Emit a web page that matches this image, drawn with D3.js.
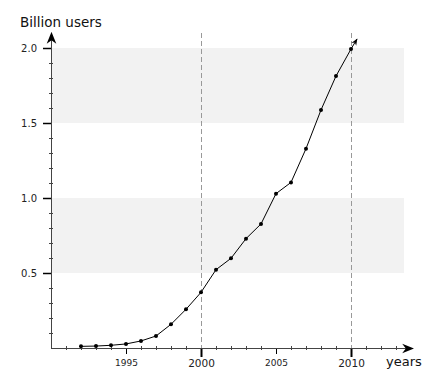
<!DOCTYPE html>
<html><head><meta charset="utf-8">
<script src="https://cdn.jsdelivr.net/npm/d3@7"></script>
<style>body{margin:0;background:#fff}svg{display:block;font-family:"DejaVu Sans",sans-serif}</style>
</head><body>
<svg id="c" width="440" height="386"></svg>
<script>
const years = [1992,1993,1994,1995,1996,1997,1998,1999,2000,2001,2002,2003,2004,2005,2006,2007,2008,2009,2010];
const users = [0.011,0.013,0.018,0.027,0.047,0.08,0.158,0.258,0.371,0.522,0.598,0.729,0.827,1.029,1.104,1.329,1.587,1.813,1.993];
const arrowEnd = [2010.4, 2.06];
const bands = [[0.5,1.0],[1.5,2.0]];
const yMajor = [0.5,1.0,1.5,2.0];
const yLabels = ["0.5","1.0","1.5","2.0"];
const xMajor = [1995,2000,2005,2010];
const xBig = [2000,2010];
const vLines = [2000,2010];

const svg = d3.select("#c");
const x = d3.scaleLinear().domain([1990,2014]).range([51,411]);
const y = d3.scaleLinear().domain([0,2]).range([348,48]);
const axisCol = "#444";

svg.append("defs").append("marker").attr("id","ah").attr("viewBox","0 0 10 10")
  .attr("refX",9).attr("refY",5).attr("markerWidth",7).attr("markerHeight",7)
  .attr("orient","auto").attr("markerUnits","userSpaceOnUse")
  .append("path").attr("d","M0,1 L10,5 L0,9 L3,5 Z").attr("fill","#000");
svg.select("defs").append("marker").attr("id","ah2").attr("viewBox","0 0 10 10")
  .attr("refX",9).attr("refY",5).attr("markerWidth",12).attr("markerHeight",12)
  .attr("orient","auto").attr("markerUnits","userSpaceOnUse")
  .append("path").attr("d","M0,1 L10,5 L0,9 L3,5 Z").attr("fill","#000");

// bands
svg.selectAll("rect.band").data(bands).join("rect")
  .attr("x",x(1990)).attr("width",x(2013.53)-x(1990))
  .attr("y",d=>y(d[1])).attr("height",d=>y(d[0])-y(d[1]))
  .attr("fill","#f2f2f2");

// vertical dashed
svg.selectAll("line.v").data(vLines).join("line")
  .attr("x1",d=>x(d)+0.5).attr("x2",d=>x(d)+0.5).attr("y1",33).attr("y2",y(0))
  .attr("stroke","#999").attr("stroke-dasharray","5,3").attr("stroke-width",1);

// y minor ticks
const yMinor = d3.range(1,21).map(i=>i/10).filter(v=>!yMajor.some(m=>Math.abs(m-v)<1e-6));
svg.selectAll("line.ym").data(yMinor).join("line")
  .attr("x1",x(1990)-2).attr("x2",x(1990)+2).attr("y1",d=>Math.round(y(d))+0.5).attr("y2",d=>Math.round(y(d))+0.5)
  .attr("stroke",axisCol);
svg.selectAll("line.yM").data(yMajor).join("line")
  .attr("x1",x(1990)-8).attr("x2",x(1990)+1).attr("y1",d=>Math.round(y(d))+0.5).attr("y2",d=>Math.round(y(d))+0.5)
  .attr("stroke","#000").attr("stroke-width",1.5);
svg.selectAll("text.yl").data(yMajor).join("text")
  .attr("x",37).attr("y",d=>y(d)+3.5).attr("text-anchor","end")
  .attr("font-size",10).attr("fill","#222").text((d,i)=>yLabels[i]);

// x minor ticks
const xMinor = d3.range(1991,2014).filter(v=>!xMajor.includes(v));
svg.selectAll("line.xm").data(xMinor).join("line")
  .attr("x1",d=>x(d)+0.5).attr("x2",d=>x(d)+0.5).attr("y1",y(0)-2).attr("y2",y(0)+2)
  .attr("stroke",axisCol);
svg.selectAll("line.xM").data(xMajor).join("line")
  .attr("x1",d=>x(d)+0.5).attr("x2",d=>x(d)+0.5).attr("y1",y(0)).attr("y2",d=>xBig.includes(d)?y(0)+9:y(0)+6)
  .attr("stroke","#000").attr("stroke-width",d=>xBig.includes(d)?2:1);
svg.selectAll("text.xl").data(xMajor).join("text")
  .attr("x",d=>x(d)+0.5).attr("y",d=>xBig.includes(d)?367:366).attr("text-anchor","middle")
  .attr("font-size",d=>xBig.includes(d)?10.5:9).attr("fill","#222").text(d=>d);

// axes lines
svg.append("line").attr("x1",x(1990)+0.5).attr("x2",x(1990)+0.5).attr("y1",y(0)).attr("y2",33)
  .attr("stroke",axisCol).attr("marker-end","url(#ah2)");
svg.append("line").attr("x1",x(1990)).attr("x2",413).attr("y1",y(0)+0.5).attr("y2",y(0)+0.5)
  .attr("stroke",axisCol).attr("marker-end","url(#ah2)");

// data line
const pts = years.map((yr,i)=>[yr,users[i]]);
const line = d3.line().x(d=>x(d[0])).y(d=>y(d[1]));
svg.append("path").attr("d",line(pts)).attr("fill","none").attr("stroke","#000").attr("stroke-width",1);
svg.append("path").attr("d",line([pts[pts.length-1],arrowEnd])).attr("fill","none")
  .attr("stroke","#000").attr("stroke-width",1).attr("marker-end","url(#ah)");
svg.selectAll("circle").data(pts).join("circle")
  .attr("cx",d=>x(d[0])).attr("cy",d=>y(d[1])).attr("r",2).attr("fill","#000");

// titles
svg.append("text").attr("x",20).attr("y",27).attr("font-size",13.5).attr("fill","#111").text("Billion users");
svg.append("text").attr("x",386).attr("y",366).attr("font-size",13).attr("fill","#111").text("years");
</script>
</body></html>
